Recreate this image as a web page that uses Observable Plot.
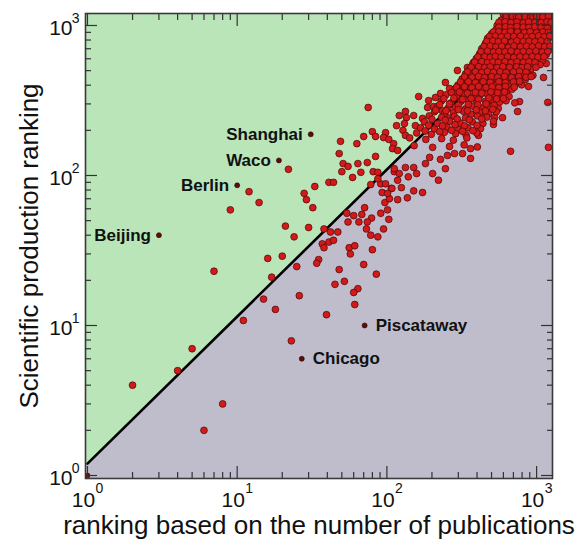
<!DOCTYPE html>
<html><head><meta charset="utf-8">
<script src="https://cdn.jsdelivr.net/npm/d3@7"></script>
<script src="https://cdn.jsdelivr.net/npm/@observablehq/plot@0.6"></script>
<style>
html,body{margin:0;padding:0;background:#fff;}
#chart svg{display:block;}
</style></head><body><div id="chart"></div>
<script>
// ---- data ----
const xDomain = [0.97, 1277];
const yDomain = [0.955, 1202];
const xMajor = [1, 10, 100, 1000];
const yMajor = [1, 10, 100, 1000];
const majorExp = ["0", "1", "2", "3"];
const xMinor = [2,3,4,5,6,7,8,9,20,30,40,50,60,70,80,90,200,300,400,500,600,700,800,900];
const yMinor = [2,3,4,5,6,7,8,9,20,30,40,50,60,70,80,90,200,300,400,500,600,700,800,900];
const xTitle = "ranking based on the number of publications";
const yTitle = "Scientific production ranking";

// diagonal separating line and the green region boundary
const lineX = [1, 1150];
const lineY = [1.2, 1202];
const regionX = [0.97, 1150, 1277];
const regionY = [1.17, 1202, 1202];

// labelled cities
const leftCityNames = ["Beijing", "Berlin", "Waco", "Shanghai"];
const leftCityX = [3, 10, 19, 31];
const leftCityY = [40, 86, 126, 188];
const rightCityNames = ["Piscataway", "Chicago"];
const rightCityX = [71, 27];
const rightCityY = [10, 6];
const originX = [1];
const originY = [1];

// sparse points (low ranks)
const sparseLow = [[2,4],[4,5],[5,7],[6,2],[8,3],[7,23],[9,59],[12,78],[14,66],[16,28],[17,21],[15,15],[11,10.8],[18,12.8],[23,7.9],[39.5,11.8],[61,13.8]];
const sparseMid = [[75,284],[121,251],[116,215],[98,193],[80,196],[70,182],[49,169],[63,163],[84,182],[95,179],[103,174],[111,163],[109,151],[118,147],[48,140],[84,134],[74,122],[64,120],[51,120],[55,115],[50,106],[67,105],[81,106],[87,105],[22,110],[59,97],[41,90],[44,90],[33,84.5],[28,76],[29,69],[32,61],[21,46],[30,45],[24,39],[20,29],[25,24.7],[38,44],[42,42],[47,42],[37,35],[41,36],[38,33],[44,37],[35,27.5],[34,26],[48,23.6],[45,18.8],[52,19.7],[26,15.8],[54,56],[55,49],[60,54],[68,55],[71,61],[73,44],[65,49],[79,52],[74,49],[78,40],[87,39],[95,44],[103,51],[91,56],[101,59],[97,66],[93,77],[107,82],[104,70],[118,69],[112,106],[91,88],[98,88],[78,87],[87,95],[56,33],[61,34],[57,30],[80,32],[85,22],[70,25.5],[64,17.6],[60,16.6]];
const clusterEdge = [[1200,154],[670,145],[883,392],[769,311],[746,267],[1187,307],[1112,450],[1160,558],[1100,650],[592,243],[524,243],[515,219],[409,185],[449,251],[362,151],[362,130],[320,140],[283,140],[254,136],[221,93],[202,103],[246,111],[228,128],[193,132],[181,120],[151,113],[158,103],[139,98],[133,113],[121,103],[118,93],[112,111],[125,83],[108,82],[101,76],[151,79],[173,77],[137,71],
  [163,336],[133,267],[135,243],[151,251],[128,200],[133,185],[131,222],[155,215],[173,240],[190,316],[187,284],[205,288],[228,352],[246,417],[262,380],[296,501],[211,331],[233,271],[254,243],[345,525],[379,567],[362,450],[442,631],[492,703],[556,885],[611,970],[640,1131],[701,1170]];
const clusterCore = [
  [600,1185],[655,1170],[725,1195],[795,1175],[875,1190],[945,1165],[1045,1195],[1145,1178],[1240,1190],
  [580,1085],[630,1110],[695,1075],[755,1100],[840,1080],[905,1115],[1005,1090],[1095,1070],[1195,1105],
  [545,1000],[605,1030],[665,1005],[720,1040],[805,1015],[865,990],[955,1025],[1045,1010],[1150,1035],[1245,995],
  [535,935],[580,955],[635,925],[690,950],[765,930],[830,960],[915,940],[995,920],[1105,950],[1210,935],
  [500,880],[545,865],[590,890],[655,870],[715,895],[805,860],[875,885],[950,870],[1060,890],[1150,865],[1235,880],
  [470,820],[520,805],[565,830],[625,810],[695,800],[755,825],[840,815],[905,795],[1010,820],[1095,805],[1200,830],
  [455,760],[500,745],[545,770],[600,750],[665,735],[725,765],[795,745],[880,760],[945,740],[1055,765],[1160,745],
  [430,700],[478,690],[525,710],[570,685],[635,705],[685,680],[765,700],[830,690],[915,715],[1000,685],[1110,700],[1215,690],
  [415,645],[462,630],[505,650],[545,635],[598,655],[662,625],[715,645],[805,640],[865,660],[955,630],[1040,650],[1160,640],
  [395,600],[440,585],[482,605],[515,580],[578,595],[625,610],[695,590],[755,575],[840,600],[905,590],[1005,605],[1095,585],
  [375,555],[425,540],[455,560],[505,545],[535,565],[605,540],[655,555],[725,545],[795,560],[875,540],[945,555],[1055,548],
  [355,505],[398,515],[445,500],[475,520],[525,510],[570,495],[635,515],[685,500],[765,512],[830,498],[915,510],
  [335,475],[385,465],[415,480],[465,470],[495,460],[545,478],[595,468],[665,475],[715,462],[805,470],[875,480],[945,465],
  [318,440],[355,430],[405,445],[435,432],[485,440],[515,428],[580,445],[625,435],[695,430],[755,442],[840,436],
  [298,400],[345,410],[375,398],[425,408],[455,395],[505,412],[535,400],[605,405],[655,395],[725,410],[795,402],
  [285,378],[322,370],[365,380],[395,368],[445,376],[475,365],[525,380],[570,372],[635,368],[685,376],
  [248,345],[292,338],[328,348],[372,335],[418,342],[468,350],[525,338],[575,345],[655,336],
  [232,315],[268,305],[312,312],[352,318],[398,305],[455,312],[495,320],[565,308],[625,315],[715,305],
  [218,288],[255,280],[288,286],[335,278],[378,290],[435,282],[485,288],[555,280],
  [208,266],[242,258],[278,262],[325,268],[365,256],[418,264],[478,258],[538,266],
  [192,250],[232,244],[282,248],[335,242],[402,250],[465,245],
  [178,228],[218,222],[262,230],[308,224],[372,228],[438,222],[515,230],
  [168,208],[208,204],[252,210],[302,202],[348,208],[422,205],
  [158,192],[198,188],[242,194],[288,190],[338,186],[398,192],
  [142,178],[182,174],[232,176],[278,172],[342,178],
  [152,158],[202,154],[262,156],[328,160],[402,155]
];
const clusterFill = [
  [620,1140],[690,1150],[760,1135],[835,1145],[910,1130],[1000,1150],[1100,1140],[1200,1150],
  [560,1050],[615,1060],[675,1045],[740,1055],[815,1040],[885,1060],[975,1050],[1075,1045],[1175,1060],[1250,1050],
  [560,975],[620,980],[670,970],[740,985],[815,975],[890,970],[975,980],[1075,975],[1180,970],
  [515,905],[560,910],[615,900],[670,915],[745,905],[830,900],[905,910],[1000,895],[1100,905],[1200,900],
  [485,845],[530,850],[580,840],[640,848],[705,845],[780,850],[860,838],[935,845],[1030,852],[1125,840],[1225,848],
  [465,785],[510,790],[555,780],[610,788],[680,775],[740,790],[815,782],[890,785],[975,780],[1070,790],[1180,782],
  [445,725],[490,730],[535,720],[585,728],[650,715],[705,730],[780,722],[855,728],[935,720],[1030,730],[1130,722],[1230,728],
  [425,670],[470,675],[515,665],[560,672],[615,668],[675,675],[745,665],[815,672],[895,668],[990,675],[1090,665],[1190,672],
  [405,617],[450,620],[490,612],[530,622],[580,615],[640,620],[705,612],[775,620],[850,615],[935,622],[1020,615],[1120,620],
  [385,570],[430,575],[470,565],[510,572],[555,568],[615,575],[675,565],[740,572],[815,568],[890,575],[975,568],
  [365,528],[410,532],[450,525],[490,530],[545,524],[595,532],[660,526],[735,530],[800,524],[870,530],[990,526],
  [345,490],[390,492],[430,486],[470,494],[515,488],[570,492],[625,486],[700,490],[770,494],[850,488],
  [330,455],[370,452],[410,458],[450,450],[500,456],[550,452],[610,458],[680,450],[760,456],[850,452],[920,456],
  [310,420],[350,422],[390,416],[440,422],[490,418],[560,422],[620,416],[700,420],[770,424],
  [292,388],[330,390],[370,386],[410,392],[460,386],[505,390],[560,386],[620,392],[710,388],
  [270,357],[305,360],[345,354],[390,358],[430,354],[495,360],[550,356],[610,360],
  [240,325],[280,328],[320,322],[365,326],[410,322],[480,328],[540,324],[600,326],
  [225,297],[262,300],[300,294],[350,298],[405,296],[460,300],[520,294],
  [212,273],[248,270],[300,275],[345,270],[395,274],[455,270],[510,276],
  [200,237],[245,234],[295,238],[355,235],[430,238],
  [190,216],[235,214],[285,218],[330,214],[400,216],
  [180,198],[225,196],[270,200],[320,197],[375,199]
];

// ---- build tables ----
const pts = [...sparseLow, ...sparseMid, ...clusterEdge, ...clusterCore, ...clusterFill].map(([x, y]) => ({x, y}));
const lineData = lineX.map((x, i) => ({x, y: lineY[i]}));
const region = regionX.map((x, i) => ({x, y: regionY[i]}));
const leftCities = leftCityNames.map((name, i) => ({name, x: leftCityX[i], y: leftCityY[i]}));
const rightCities = rightCityNames.map((name, i) => ({name, x: rightCityX[i], y: rightCityY[i]}));
const origin = originX.map((x, i) => ({x, y: originY[i]}));

const green = "#b9e5b9", grey = "#bfbdcc";
const tickColor = "#333";
const font = "'Liberation Sans', Arial, Helvetica, sans-serif";

const chart = Plot.plot({
  width: 576, height: 539,
  marginLeft: 85, marginRight: 24, marginTop: 13, marginBottom: 61,
  style: {fontFamily: font, background: "white", color: "#111"},
  x: {type: "log", domain: xDomain},
  y: {type: "log", domain: yDomain},
  marks: [
    Plot.frame({fill: grey, stroke: null}),
    Plot.areaY(region, {x: "x", y1: "y", y2: () => yDomain[1], fill: green, clip: true}),
    Plot.line(lineData, {x: "x", y: "y", stroke: "#000", strokeWidth: 2.6, clip: true}),
    Plot.dot(pts, {x: "x", y: "y", r: 3.4, fill: "#d21a1a", stroke: "#4a0606", strokeWidth: 0.7, clip: true}),
    Plot.dot([...leftCities, ...rightCities, ...origin], {x: "x", y: "y", r: 2.5, fill: "#5e0d0d", stroke: "#2a0000", strokeWidth: 0.6, clip: true}),
    Plot.text(leftCities, {x: "x", y: "y", text: "name", textAnchor: "end", dx: -8, fontSize: 17, fontWeight: "bold", fill: "#111", lineAnchor: "middle"}),
    Plot.text(rightCities, {x: "x", y: "y", text: "name", textAnchor: "start", dx: 11, fontSize: 17, fontWeight: "bold", fill: "#111", lineAnchor: "middle"}),
    Plot.frame({stroke: "#3a3a3a", strokeWidth: 1.6}),
    // inward ticks on all four sides
    Plot.axisX(xMajor, {anchor: "bottom", tickSize: -12, fill: "none", stroke: tickColor, strokeWidth: 1.2}),
    Plot.axisX(xMinor, {anchor: "bottom", tickSize: -6, fill: "none", stroke: tickColor, strokeWidth: 1.2}),
    Plot.axisX(xMajor, {anchor: "top", tickSize: -12, fill: "none", stroke: tickColor, strokeWidth: 1.2}),
    Plot.axisX(xMinor, {anchor: "top", tickSize: -6, fill: "none", stroke: tickColor, strokeWidth: 1.2}),
    Plot.axisY(yMajor, {anchor: "left", tickSize: -12, fill: "none", stroke: tickColor, strokeWidth: 1.2}),
    Plot.axisY(yMinor, {anchor: "left", tickSize: -6, fill: "none", stroke: tickColor, strokeWidth: 1.2}),
    Plot.axisY(yMajor, {anchor: "right", tickSize: -12, fill: "none", stroke: tickColor, strokeWidth: 1.2}),
    Plot.axisY(yMinor, {anchor: "right", tickSize: -6, fill: "none", stroke: tickColor, strokeWidth: 1.2}),
    // tick labels 10^k
    Plot.text(xMajor, {x: d => d, frameAnchor: "bottom", text: () => "10", textAnchor: "middle", dy: 22, dx: -4, fontSize: 21, lineAnchor: "middle", fill: "#111"}),
    Plot.text(xMajor, {x: d => d, frameAnchor: "bottom", text: (d, i) => majorExp[i], textAnchor: "middle", dy: 10, dx: 12, fontSize: 14, lineAnchor: "middle", fill: "#111"}),
    Plot.text(yMajor, {y: d => d, frameAnchor: "left", text: () => "10", textAnchor: "end", dx: -13, dy: 3, fontSize: 21, lineAnchor: "middle", fill: "#111"}),
    Plot.text(yMajor, {y: d => d, frameAnchor: "left", text: (d, i) => majorExp[i], textAnchor: "end", dx: -6, dy: -7, fontSize: 14, lineAnchor: "middle", fill: "#111"}),
    // axis titles
    Plot.text([yTitle], {text: d => d, frameAnchor: "left", textAnchor: "middle", dx: -48, rotate: -90, lineAnchor: "bottom", fontSize: 26, fill: "#111"}),
    Plot.text([xTitle], {text: d => d, frameAnchor: "bottom", textAnchor: "middle", dy: 55, lineAnchor: "bottom", fontSize: 26, fill: "#111"})
  ]
});
document.getElementById("chart").appendChild(chart);
</script>
</body></html>
